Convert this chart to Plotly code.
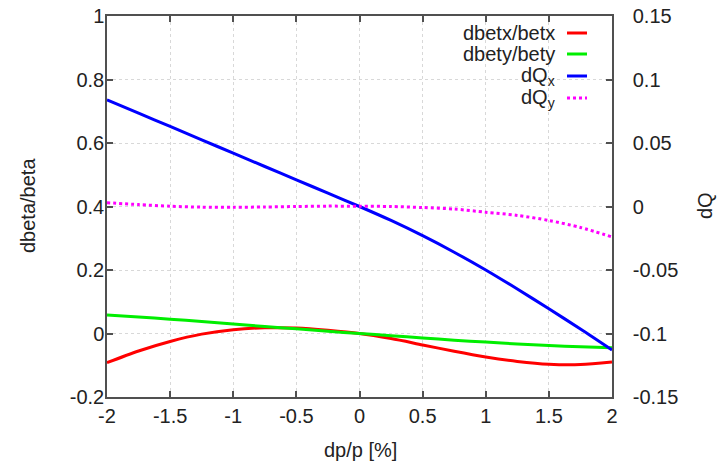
import plotly.graph_objects as go

# momentum deviation dp/p in percent
dp = [-2.0, -1.75, -1.5, -1.25, -1.0, -0.75, -0.5, -0.25, 0.0,
      0.25, 0.5, 0.75, 1.0, 1.25, 1.5, 1.75, 2.0]

# relative beta-beating (left axis)
dbetx_betx = [-0.092, -0.055, -0.025, -0.002, 0.012, 0.018, 0.017, 0.010, 0.0,
              -0.016, -0.036, -0.056, -0.074, -0.088, -0.097, -0.098, -0.090]
dbety_bety = [0.058, 0.052, 0.045, 0.038, 0.030, 0.022, 0.015, 0.007, 0.0,
              -0.007, -0.014, -0.021, -0.027, -0.033, -0.038, -0.042, -0.045]

# tune shifts (right axis)
dQx = [0.084, 0.0735, 0.063, 0.0525, 0.042, 0.0315, 0.021, 0.0105, 0.0,
       -0.011, -0.023, -0.036, -0.050, -0.065, -0.0805, -0.0965, -0.113]
dQy = [0.003, 0.0015, 0.0002, -0.0005, -0.0006, -0.0004, 0.0, 0.0003, 0.0002,
       0.0, -0.0008, -0.002, -0.0045, -0.0070, -0.0110, -0.0165, -0.024]

x_ticks = [-2, -1.5, -1, -0.5, 0, 0.5, 1, 1.5, 2]
x_ticklabels = ["-2", "-1.5", "-1", "-0.5", "0", "0.5", "1", "1.5", "2"]
y1_ticks = [-0.2, 0, 0.2, 0.4, 0.6, 0.8, 1]
y1_ticklabels = ["-0.2", "0", "0.2", "0.4", "0.6", "0.8", "1"]
y2_ticks = [-0.15, -0.1, -0.05, 0, 0.05, 0.1, 0.15]
y2_ticklabels = ["-0.15", "-0.1", "-0.05", "0", "0.05", "0.1", "0.15"]

legend_labels = ["dbetx/betx", "dbety/bety", "dQ<sub>x</sub>", "dQ<sub>y</sub>"]
colors = ["#ff0000", "#00ee00", "#0000ff", "#ff00ff"]
dashes = ["solid", "solid", "solid", "dot"]

FONT = "Liberation Sans, Arial, Helvetica, sans-serif"
FS = 20
TXT = "#222222"
AXIS = "#505050"

fig = go.Figure()
series = [(dbetx_betx, "y"), (dbety_bety, "y"), (dQx, "y2"), (dQy, "y2")]
for (vals, ax), col, dash, name in zip(series, colors, dashes, legend_labels):
    fig.add_trace(go.Scatter(
        x=dp, y=vals, yaxis=ax, mode="lines", name=name,
        line=dict(color=col, width=3, dash=dash, shape="spline", smoothing=0.8),
        showlegend=False,
    ))

L, R, T, B = 107, 612, 16, 397
W, H = R - L, B - T


def px_x(px):
    return (px - L) / W


def px_y(py):
    return (B - py) / H


# key in the upper right corner: right-aligned text followed by line sample
rows_px = [33, 54, 76, 98]
for lab, col, dash, py in zip(legend_labels, colors, dashes, rows_px):
    fig.add_annotation(
        xref="paper", yref="paper", x=px_x(557), y=px_y(py),
        text=lab, showarrow=False, xanchor="right", yanchor="middle",
        font=dict(family=FONT, size=FS, color=TXT),
    )
    fig.add_shape(
        type="line", xref="paper", yref="paper",
        x0=px_x(567), x1=px_x(587), y0=px_y(py), y1=px_y(py),
        line=dict(color=col, width=3, dash=dash),
    )

# axis titles
titles = [
    ("dp/p [%]", 360, 450, 0),
    ("dbeta/beta", 28, 206, -90),
    ("dQ", 705, 206, -90),
]
for text, tx, ty, ang in titles:
    fig.add_annotation(
        xref="paper", yref="paper", x=px_x(tx), y=px_y(ty),
        text=text, showarrow=False, textangle=ang,
        xanchor="center", yanchor="middle",
        font=dict(family=FONT, size=FS, color=TXT),
    )

common = dict(
    ticks="inside", ticklen=6, tickcolor=AXIS, tickwidth=1.5,
    showline=True, linecolor=AXIS, linewidth=1.5,
    zeroline=False, automargin=False,
    tickfont=dict(family=FONT, size=FS, color=TXT),
)

fig.update_layout(
    width=720, height=468,
    margin=dict(l=L, r=720 - R, t=T, b=468 - B),
    paper_bgcolor="white", plot_bgcolor="white",
    font=dict(family=FONT, size=FS, color=TXT),
    xaxis=dict(
        range=[-2, 2], tickvals=x_ticks, ticktext=x_ticklabels,
        mirror="ticks",
        showgrid=True, gridcolor="#d8d8d8", griddash="dot", gridwidth=1,
        **common,
    ),
    yaxis=dict(
        range=[-0.2, 1], tickvals=y1_ticks, ticktext=y1_ticklabels,
        ticklabelstandoff=-3,
        showgrid=True, gridcolor="#d8d8d8", griddash="dot", gridwidth=1,
        **common,
    ),
    yaxis2=dict(
        range=[-0.15, 0.15], tickvals=y2_ticks, ticktext=y2_ticklabels,
        overlaying="y", side="right",
        ticklabelstandoff=15,
        showgrid=False,
        **common,
    ),
)

fig.write_html("out.html")
